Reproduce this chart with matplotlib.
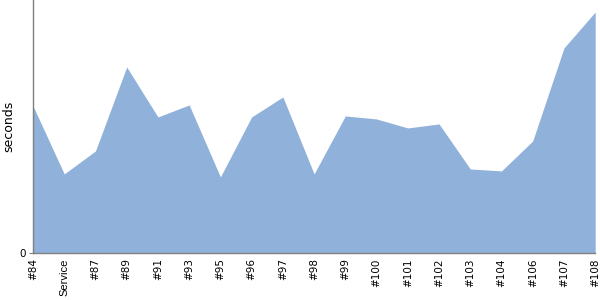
import matplotlib
matplotlib.use('Agg')
import matplotlib.pyplot as plt

builds = ['#84', 'Service', '#87', '#89', '#91', '#93', '#95', '#96', '#97', '#98',
          '#99', '#100', '#101', '#102', '#103', '#104', '#106', '#107', '#108']
seconds = [14.7, 7.9, 10.2, 18.6, 13.6, 14.8, 7.6, 13.6, 15.6, 7.9,
           13.7, 13.4, 12.5, 12.9, 8.4, 8.2, 11.2, 20.5, 24.1]


def create_plot():
    fig = plt.figure(figsize=(6, 3), dpi=100)
    ax = fig.add_axes([0.055, 0.157, 0.937, 0.843])
    x = list(range(len(builds)))
    ax.fill_between(x, seconds, 0, color='#8fb1da', linewidth=0)
    ax.set_xlim(0, len(builds) - 1)
    ax.set_ylim(0, 25.3)

    for side in ('top', 'right'):
        ax.spines[side].set_visible(False)
    for side in ('left', 'bottom'):
        ax.spines[side].set_color('#808080')
        ax.spines[side].set_linewidth(1)

    ax.set_yticks([0])
    ax.set_yticklabels(['0'], fontsize=7.5)
    ax.set_xticks(x)
    ax.set_xticklabels(builds, rotation=90, fontsize=7.5, va='top')
    for lbl in ax.get_xticklabels():
        if lbl.get_text() == 'Service':
            lbl.set_fontfamily('Liberation Sans')
            lbl.set_fontsize(8)
    ax.tick_params(axis='both', length=3, color='#808080', pad=2)
    ax.tick_params(axis='x', length=0, pad=4)
    ax.set_ylabel('seconds', fontsize=9)
    ax.yaxis.set_label_coords(-0.032, 0.5)

    fig.savefig('out.png', dpi=100)
    plt.close(fig)


def main():
    create_plot()


if __name__ == "__main__":
    main()
